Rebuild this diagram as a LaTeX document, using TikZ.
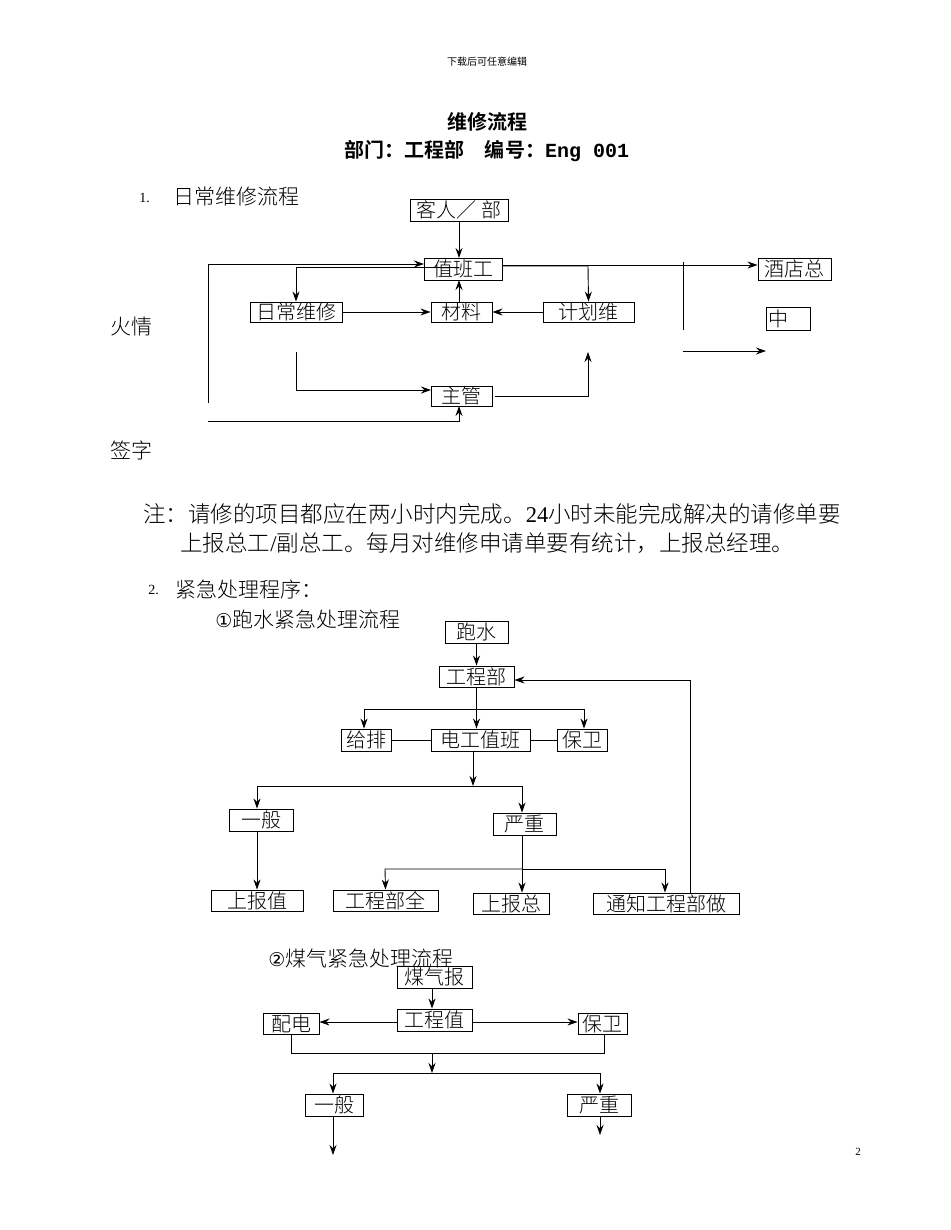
\documentclass[tikz,border=0pt]{standalone}
\usepackage{fontspec}
\setmainfont{Liberation Serif}
\newfontfamily\cjk{Noto Sans CJK SC}
\newfontfamily\cjkl{Noto Sans CJK SC Light}
\newfontfamily\cjkb{Noto Sans CJK SC Bold}
\usetikzlibrary{arrows.meta}
\begin{document}
\begin{tikzpicture}[x=1pt,y=-1pt,line width=0.9pt,
  bx/.style={draw,inner sep=0pt,font=\cjkl\fontsize{20}{20}\selectfont,anchor=center},
  lbl/.style={inner sep=0pt,anchor=west,font=\cjkl\fontsize{21}{21}\selectfont},
  ar/.style={-{Stealth[length=10pt,width=7pt]}}]
\useasboundingbox (0,0) rectangle (950,1230);
% header
\node (hd) at (487,62) {\cjk\fontsize{10}{10}\selectfont 下载后可任意编辑};
\node (t1) at (487,122) {\cjkb\fontsize{20}{20}\selectfont 维修流程};
\node (t2) at (487,151) {\cjkb\fontsize{20}{20}\selectfont 部门：工程部\quad 编号：\fontspec{Liberation Mono}\bfseries Eng 001};
% section 1
\node[lbl,font=\fontsize{14}{14}\selectfont] (n1) at (139,198) {1.};
\node[lbl] (s1) at (173,197) {日常维修流程};
\node[lbl] (hq) at (110,327) {火情};
\node[lbl] (qz) at (110,450) {签字};
\node[bx,minimum width=98,minimum height=22] (kr) at (459,210) {客人／ 部};
\node[bx,minimum width=78,minimum height=22] (zb) at (463,269) {值班工};
\node[bx,minimum width=92,minimum height=20] (rc) at (296,312) {日常维修};
\node[bx,minimum width=61,minimum height=20] (cl) at (461.5,312) {材料};
\node[bx,minimum width=91,minimum height=20] (jh) at (588.5,312) {计划维};
\node[bx,minimum width=61,minimum height=20] (zg) at (461.5,396) {主管};
\node[bx,minimum width=73,minimum height=22] (jd) at (794.5,269) {酒店总};
\node[bx,minimum width=44,minimum height=23,text width=40,align=left] (zh) at (788,318.5) {中};
\draw[ar] (kr.south -| 459,0) -- (459,258);
\coordinate (lb) at (208,403);
\draw[ar] (lb) -- (208,264) -- (424,264);
\draw[ar] (459,267) -- (296,267) -- (rc.north);
\draw[ar] (502,266) -- (588,266) -- (jh.north);
\draw[ar] (rc.east) -- (cl.west);
\draw[ar] (jh.west) -- (cl.east);
\draw[ar] (459,302) -- (459,280);
\coordinate (rcb) at (296,352);
\draw[ar] (rcb) -- (296,390) -- (431,390);
\coordinate (zgr) at (495,396);
\coordinate (jhb) at (588,352);
\draw[ar] (zgr) -- (588,396) -- (jhb);
\coordinate (qzl) at (208,421);
\draw[ar] (qzl) -- (459,421) -- (459,406);
\draw[ar] (502,265) -- (jd.west |- 0,265);
\coordinate (vt) at (683,262); \coordinate (vb) at (683,330);
\draw (vt) -- (vb);
\coordinate (al) at (683,351); \coordinate (ae) at (766,351);
\draw[ar] (al) -- (ae);
% note
\node[lbl,font=\cjkl\fontsize{22.5}{22.5}\selectfont] (nt1) at (143,514) {注：请修的项目都应在两小时内完成。{\fontspec{Liberation Serif}24}小时未能完成解决的请修单要};
\node[lbl,font=\cjkl\fontsize{22.5}{22.5}\selectfont] (nt2) at (180,543) {上报总工{\fontspec{Liberation Serif}/}副总工。每月对维修申请单要有统计，上报总经理。};
% section 2
\node[lbl,font=\fontsize{14}{14}\selectfont] (n2) at (148,590) {2.};
\node[lbl] (s2) at (175,590) {紧急处理程序：};
\node[lbl] (s2a) at (215,620) {{\fontspec{DejaVu Sans}\fontsize{19}{19}\selectfont ①}跑水紧急处理流程};
\node[bx,minimum width=63,minimum height=22] (ps) at (476.5,632) {跑水};
\node[bx,minimum width=75,minimum height=21] (gc) at (476.5,676.5) {工程部};
\node[bx,minimum width=50,minimum height=22] (gp) at (366,740) {给排};
\node[bx,minimum width=99,minimum height=22] (dg) at (480.5,740) {电工值班};
\node[bx,minimum width=50,minimum height=22] (bw) at (582,740) {保卫};
\node[bx,minimum width=64,minimum height=22] (yb) at (261,820) {一般};
\node[bx,minimum width=63,minimum height=22] (yz) at (524.5,824) {严重};
\node[bx,minimum width=92,minimum height=21] (sb) at (257,900.5) {上报值};
\node[bx,minimum width=105,minimum height=21] (gq) at (385.5,900.5) {工程部全};
\node[bx,minimum width=76,minimum height=21] (sz) at (511,903.5) {上报总};
\node[bx,minimum width=146,minimum height=21] (tz) at (666,903.5) {通知工程部做};
\draw[ar] (ps.south) -- (gc.north);
\draw[ar] (gc.south) -- (dg.north -| gc.south);
\draw[ar] (476,709) -- (364,709) -- (gp.north -| 364,0);
\draw[ar] (476,709) -- (584,709) -- (bw.north -| 584,0);
\draw (gp.east) -- (dg.west);
\draw (dg.east) -- (bw.west);
\draw[ar] (dg.south -| 473,0) -- (473,786);
\draw[ar] (473,786) -- (257,786) -- (yb.north -| 257,0);
\draw[ar] (473,786) -- (522,786) -- (yz.north -| 522,0);
\draw[ar] (yb.south -| 257,0) -- (sb.north);
\draw[ar] (yz.south -| 522,0) -- (sz.north -| 522,0);
\draw[ar] (522,869) -- (385,869) -- (gq.north);
\draw[ar] (522,869) -- (665,869) -- (tz.north -| 665,0);
\draw[ar] (tz.north -| 690,0) -- (690,680) -- (gc.east |- 0,680);
% section 2b
\node[lbl] (s2b) at (268,958) {{\fontspec{DejaVu Sans}\fontsize{19}{19}\selectfont ②}煤气紧急处理流程};
\node[bx,minimum width=75,minimum height=22] (mq) at (434.5,977) {煤气报};
\node[bx,minimum width=75,minimum height=22] (gz) at (434.5,1020) {工程值};
\node[bx,minimum width=56,minimum height=21] (pd) at (291,1023.5) {配电};
\node[bx,minimum width=49,minimum height=21] (bw2) at (602.5,1023.5) {保卫};
\node[bx,minimum width=58,minimum height=22] (yb2) at (334,1105) {一般};
\node[bx,minimum width=64,minimum height=22] (yz2) at (599,1105) {严重};
\draw[ar] (mq.south -| 432,0) -- (gz.north -| 432,0);
\draw[ar] (gz.west |- 0,1022) -- (pd.east |- 0,1022);
\draw[ar] (gz.east |- 0,1022) -- (bw2.west |- 0,1022);
\draw (pd.south) -- (291,1053) -- (604,1053) -- (bw2.south -| 604,0);
\draw[ar] (432,1053) -- (432,1073);
\draw[ar] (432,1073) -- (333,1073) -- (yb2.north -| 333,0);
\draw[ar] (432,1073) -- (600,1073) -- (yz2.north -| 600,0);
\coordinate (e1) at (333,1155); \coordinate (e2) at (600,1135);
\draw[ar] (yb2.south -| 333,0) -- (e1);
\draw[ar] (yz2.south -| 600,0) -- (e2);
\node (pg) at (858,1152) {\fontsize{11}{11}\selectfont 2};
\end{tikzpicture}
\end{document}
